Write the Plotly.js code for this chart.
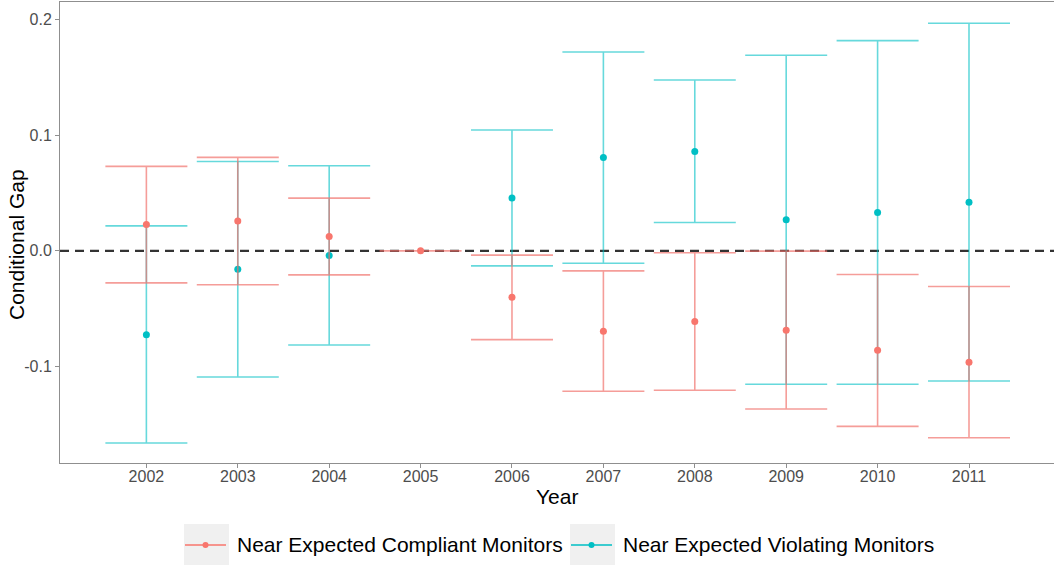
<!DOCTYPE html>
<html>
<head>
<meta charset="utf-8">
<script src="https://cdn.plot.ly/plotly-3.0.1.min.js"></script>
<style>
  html, body { margin: 0; padding: 0; background: #ffffff; }
  #chart { width: 1054px; height: 565px; }
</style>
</head>
<body>
<div id="chart"></div>
<script>
// Event-study estimates of the conditional gap, by year (2005 = reference year)
const years = [2002, 2003, 2004, 2005, 2006, 2007, 2008, 2009, 2010, 2011];
const yearLabels = ['2002', '2003', '2004', '2005', '2006', '2007', '2008', '2009', '2010', '2011'];

// Near expected compliant monitors
const compliantEst  = [0.0228, 0.0257, 0.0124, 0.0, -0.0401, -0.0695, -0.0612, -0.0687, -0.0860, -0.0964];
const compliantLow  = [-0.0277, -0.0294, -0.0208, 0.0, -0.0768, -0.1215, -0.1206, -0.1368, -0.1518, -0.1616];
const compliantHigh = [0.0730, 0.0808, 0.0456, 0.0, -0.0037, -0.0173, -0.0017, -0.0003, -0.0205, -0.0309];

// Near expected violating monitors (no estimate in the reference year)
const violatingEst  = [-0.0725, -0.0159, -0.0040, null, 0.0456, 0.0808, 0.0860, 0.0268, 0.0332, 0.0421];
const violatingLow  = [-0.1662, -0.1091, -0.0814, null, -0.0130, -0.0107, 0.0245, -0.1154, -0.1154, -0.1126];
const violatingHigh = [0.0216, 0.0773, 0.0736, null, 0.1045, 0.1720, 0.1478, 0.1691, 0.1818, 0.1968];

const seriesNames = ['Near Expected Compliant Monitors', 'Near Expected Violating Monitors'];

const RED = '#F8766D';
const TEAL = '#00BFC4';
const RED_BAR = 'rgba(240,110,104,0.68)';
const TEAL_BAR = 'rgba(0,191,196,0.6)';

const xRange = [2001.055, 2011.93];
const yRange = [-0.1835, 0.2152];

const FONT = '"Liberation Sans", Arial, Helvetica, sans-serif';

function upper(est, high) { return est.map((v, i) => v == null ? null : high[i] - v); }
function lower(est, low)  { return est.map((v, i) => v == null ? null : v - low[i]); }

// one trace per series: interval bars under the point estimates
function seriesTrace(est, low, high, barColor, pointColor, name) {
  return {
    type: 'scatter', mode: 'markers', name: name,
    x: years, y: est,
    marker: { size: 7, color: pointColor },
    error_y: {
      type: 'data', symmetric: false,
      array: upper(est, high), arrayminus: lower(est, low),
      color: barColor, thickness: 1.6, width: 41
    },
    showlegend: false
  };
}

const data = [
  {
    // zero reference line
    type: 'scatter', mode: 'lines',
    x: xRange, y: [0, 0],
    line: { color: '#333333', width: 2.2, dash: '9px,6px' },
    showlegend: false, hoverinfo: 'skip'
  },
  seriesTrace(violatingEst, violatingLow, violatingHigh, TEAL_BAR, TEAL, seriesNames[1]),
  seriesTrace(compliantEst, compliantLow, compliantHigh, RED_BAR, RED, seriesNames[0])
];

// Hand-built legend below the panel (pixel layout converted to paper units)
const W = 1054, H = 565;
const M = { l: 60, r: 0, t: 2, b: 102 };
const PW = W - M.l - M.r, PH = H - M.t - M.b;
const px = x => (x - M.l) / PW;
const py = y => (H - M.b - y) / PH;

const legendKeys = [
  { x0: 184, x1: 229, color: RED, text: seriesNames[0], textX: 235 },
  { x0: 570, x1: 615, color: TEAL, text: seriesNames[1], textX: 621 }
];
const keyTop = 524, keyBottom = 568, keyMid = 545;

const shapes = [];
const annotations = [];
legendKeys.forEach(k => {
  shapes.push({
    type: 'rect', xref: 'paper', yref: 'paper',
    x0: px(k.x0), x1: px(k.x1), y0: py(keyBottom), y1: py(keyTop),
    fillcolor: '#F0F0F0', line: { width: 0 }, layer: 'below'
  });
  shapes.push({
    type: 'line', xref: 'paper', yref: 'paper',
    x0: px(k.x0 + 1), x1: px(k.x1 - 3), y0: py(keyMid), y1: py(keyMid),
    line: { color: k.color, width: 1.4 }
  });
  const cx = (k.x0 + k.x1 - 2) / 2;
  shapes.push({
    type: 'circle', xref: 'paper', yref: 'paper',
    x0: px(cx - 3), x1: px(cx + 3), y0: py(keyMid + 3), y1: py(keyMid - 3),
    fillcolor: k.color, line: { width: 0 }
  });
  annotations.push({
    xref: 'paper', yref: 'paper', x: px(k.textX), y: py(keyMid - 1),
    xanchor: 'left', yanchor: 'middle', showarrow: false,
    text: k.text, font: { family: FONT, size: 21, color: '#000000' }
  });
});

annotations.push({
  xref: 'paper', yref: 'paper', x: px(557), y: py(496),
  xanchor: 'center', yanchor: 'middle', showarrow: false,
  text: 'Year', font: { family: FONT, size: 21, color: '#000000' }
});
annotations.push({
  xref: 'paper', yref: 'paper', x: px(17), y: py(245),
  xanchor: 'center', yanchor: 'middle', showarrow: false, textangle: -90,
  text: 'Conditional Gap', font: { family: FONT, size: 21, color: '#000000' }
});

const layout = {
  width: W, height: H,
  margin: M,
  paper_bgcolor: '#ffffff', plot_bgcolor: '#ffffff',
  font: { family: FONT },
  showlegend: false,
  xaxis: {
    range: xRange, tickmode: 'array', tickvals: years, ticktext: yearLabels,
    showgrid: false, zeroline: false,
    showline: true, mirror: true, linecolor: '#8f8f8f', linewidth: 1,
    ticks: 'outside', ticklen: 4, tickwidth: 1, tickcolor: '#8f8f8f',
    ticklabelstandoff: -5,
    tickfont: { family: FONT, size: 16, color: '#4D4D4D' }
  },
  yaxis: {
    range: yRange, tickmode: 'array',
    tickvals: [-0.1, 0, 0.1, 0.2], ticktext: ['-0.1', '0.0', '0.1', '0.2'],
    showgrid: false, zeroline: false,
    showline: true, mirror: false, linecolor: '#8f8f8f', linewidth: 1,
    ticks: 'outside', ticklen: 4, tickwidth: 1, tickcolor: '#8f8f8f',
    tickfont: { family: FONT, size: 16, color: '#4D4D4D' }
  },
  shapes: shapes,
  annotations: annotations
};

Plotly.newPlot('chart', data, layout, { displayModeBar: false, staticPlot: true });
</script>
</body>
</html>
